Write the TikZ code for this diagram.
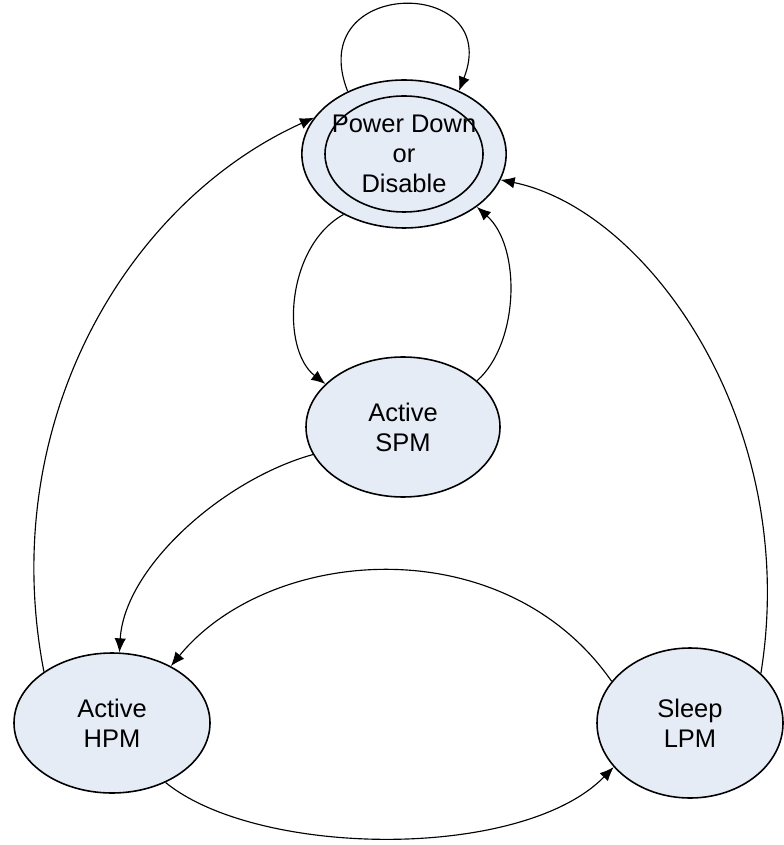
\documentclass[tikz,border=0pt]{standalone}
\usepackage{fontspec}
\setmainfont{Liberation Sans}
\usetikzlibrary{shapes.geometric,arrows.meta}
\definecolor{statefill}{RGB}{230,236,246}
\tikzset{
    state/.style={ellipse, draw, line width=0.9pt, fill=statefill, inner sep=0pt,
        align=center, font=\fontsize{14.5}{17}\selectfont},
    trans/.style={->, line width=0.65pt}
}
\begin{document}
\begin{tikzpicture}[>={Latex[length=8pt,width=6.5pt]}]
\useasboundingbox (0,0) rectangle (15.66,-16.9);
% states
\node[state, minimum width=3.96cm, minimum height=2.96cm] (pd) at (8.08,-3.08) {Power Down\\or\\Disable};
\draw[line width=0.9pt] (pd.center) ellipse [x radius=1.58cm, y radius=1.16cm];
\node[state, minimum width=3.88cm, minimum height=2.8cm] (spm) at (8.06,-8.54) {Active\\SPM};
\node[state, minimum width=3.92cm, minimum height=2.8cm] (hpm) at (2.24,-14.46) {Active\\HPM};
\node[state, minimum width=3.72cm, minimum height=3.0cm] (lpm) at (13.8,-14.46) {Sleep\\LPM};
% transitions
\draw[trans] (pd.132) .. controls +(-0.9,2.3) and +(0.9,2.3) .. (pd.49);
\draw[trans] (pd.225) .. controls +(-1.15,-0.64) and +(-0.9,0.7) .. (spm.151);
\draw[trans] (spm.32) .. controls +(0.84,0.74) and +(0.9,-0.8) .. (pd.324);
\draw[trans] (spm.197) .. controls +(-1.8,-0.5) and +(0.1,1.7) .. (hpm.84);
\draw[trans] (hpm.143) .. controls +(-0.96,4.96) and +(-3.76,-1.7) .. (pd.158);
\draw[trans] (lpm.35) .. controls +(0.8,4.96) and +(2.96,-0.6) .. (pd.345);
\draw[trans] (lpm.152) .. controls +(-2.16,3.1) and +(1.96,2.4) .. (hpm.44);
\draw[trans] (hpm.312) .. controls +(1.84,-1.5) and +(-1.84,-1.88) .. (lpm.210);
\end{tikzpicture}
\end{document}
